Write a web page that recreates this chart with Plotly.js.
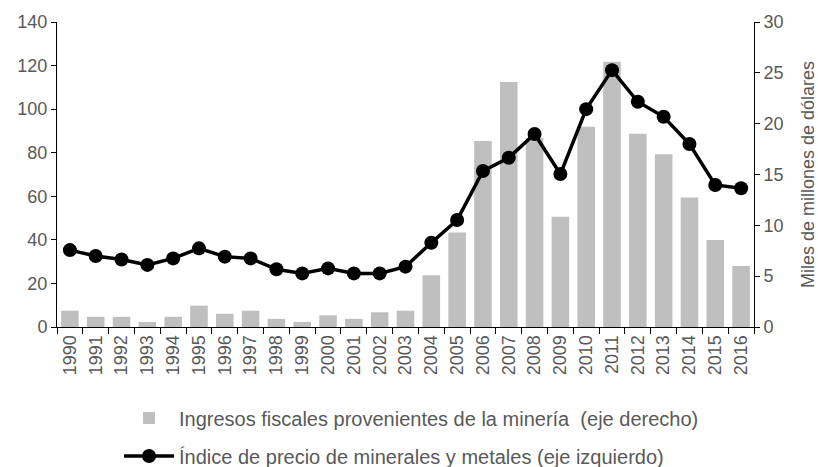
<!DOCTYPE html>
<html>
<head>
<meta charset="utf-8">
<script src="https://cdn.plot.ly/plotly-3.0.1.min.js"></script>
<style>
  html, body { margin: 0; padding: 0; background: #fff; }
  #chart { width: 818px; height: 467px; }
</style>
</head>
<body>
<div id="chart"></div>
<script>
// Years on the x axis
const YEARS = ["1990","1991","1992","1993","1994","1995","1996","1997","1998","1999",
               "2000","2001","2002","2003","2004","2005","2006","2007","2008","2009",
               "2010","2011","2012","2013","2014","2015","2016"];

// Fiscal revenue from mining, thousands of millions of dollars (right axis)
const ingresos = [1.6, 1.0, 1.0, 0.5, 1.0, 2.1, 1.3, 1.6, 0.8, 0.5,
                  1.15, 0.8, 1.45, 1.6, 5.1, 9.3, 18.3, 24.1, 18.6, 10.85,
                  19.7, 26.1, 19.0, 17.0, 12.75, 8.55, 6.0];

// Price index of minerals and metals (left axis)
const indice = [35.3, 32.6, 31.0, 28.5, 31.5, 36.1, 32.3, 31.5, 26.5, 24.6,
                26.9, 24.6, 24.6, 27.7, 38.7, 49.1, 71.6, 77.7, 88.6, 70.2,
                100.0, 117.9, 103.4, 96.5, 84.0, 65.2, 63.7];

const GRAY_TEXT = '#595959';
const FONT = 'Liberation Sans, Arial, sans-serif';

const traces = [
  {
    x: YEARS,
    y: ingresos,
    type: 'bar',
    name: 'Ingresos fiscales provenientes de la minería  (eje derecho)',
    marker: { color: '#bfbfbf' },
    yaxis: 'y',
    legendgroup: 'a'
  },
  {
    x: YEARS,
    y: indice,
    type: 'scatter',
    mode: 'lines+markers',
    name: 'Índice de precio de minerales y metales (eje izquierdo)',
    line: { color: '#000', width: 3.5 },
    marker: { color: '#000', size: 14 },
    yaxis: 'y2',
    legendgroup: 'b'
  }
];

const layout = {
  width: 818,
  height: 467,
  // autoexpand off: the legend sits at the very bottom edge without shrinking the plot
  margin: { l: 57, r: 64, t: 22, b: 140, autoexpand: false },
  paper_bgcolor: '#fff',
  plot_bgcolor: '#fff',
  font: { family: FONT, size: 18, color: GRAY_TEXT },
  bargap: 0.32,
  showlegend: true,
  legend: {
    x: 0.089, xanchor: 'left',
    y: -0.487, yanchor: 'bottom',
    orientation: 'v',
    traceorder: 'grouped',
    tracegroupgap: 9,
    font: { family: FONT, size: 20, color: GRAY_TEXT },
    itemwidth: 50
  },
  xaxis: {
    type: 'category',
    range: [-0.5, 26.5],
    automargin: false,
    tickangle: -90,
    showline: true, linecolor: '#000', linewidth: 1,
    ticks: 'outside', tickson: 'boundaries', ticklen: 6, tickcolor: '#000',
    tickfont: { size: 18, color: GRAY_TEXT },
    showgrid: false, zeroline: false
  },
  // bars: right axis
  yaxis: {
    side: 'right',
    range: [0, 30],
    dtick: 5,
    automargin: false,
    showline: true, linecolor: '#000', linewidth: 1,
    ticks: 'outside', ticklen: 5, tickcolor: '#000',
    tickfont: { size: 18, color: GRAY_TEXT },
    showgrid: false, zeroline: false,
    title: { text: 'Miles de millones de dólares', font: { size: 18, color: GRAY_TEXT }, standoff: 19 }
  },
  // line: left axis, overlaid so it draws above the bars
  yaxis2: {
    side: 'left',
    overlaying: 'y',
    range: [0, 140],
    dtick: 20,
    automargin: false,
    showline: true, linecolor: '#000', linewidth: 1,
    ticks: 'outside', ticklen: 5, tickcolor: '#000',
    tickfont: { size: 18, color: GRAY_TEXT },
    showgrid: false, zeroline: false
  }
};

Plotly.newPlot('chart', traces, layout, { displayModeBar: false, responsive: false });
</script>
</body>
</html>
